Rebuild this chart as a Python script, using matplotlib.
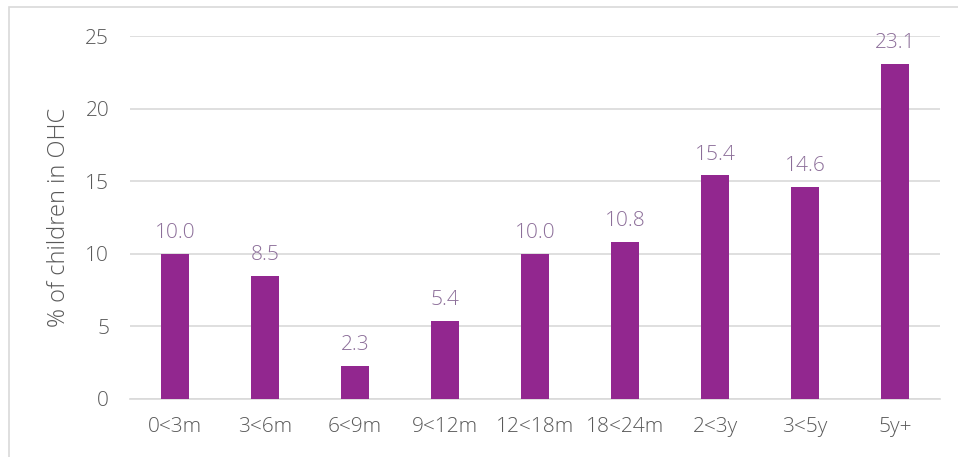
import matplotlib
matplotlib.use("Agg")
import matplotlib.pyplot as plt
from matplotlib.patches import Rectangle

categories = ["0<3m", "3<6m", "6<9m", "9<12m", "12<18m", "18<24m", "2<3y", "3<5y", "5y+"]
values = [10.0, 8.5, 2.3, 5.4, 10.0, 10.8, 15.4, 14.6, 23.1]
yticks = [0, 5, 10, 15, 20, 25]

BAR = "#92278F"
LABEL = "#8C6E99"
TEXT = "#595959"
GRID = "#D9D9D9"

plt.rcParams["font.family"] = ["Open Sans", "DejaVu Sans"]

fig = plt.figure(figsize=(9.58, 4.57), dpi=100)
ax = fig.add_axes([130 / 958, 1 - 399 / 457, 810 / 958, 363 / 457])

x = range(len(categories))
bars = ax.bar(x, values, width=0.31, color=BAR, zorder=3)
for b, v in zip(bars, values):
    ax.text(b.get_x() + b.get_width() / 2, v + 0.75, f"{v:.1f}",
            ha="center", va="bottom", fontsize=15, color=LABEL, fontweight="light")

ax.set_xlim(-0.5, len(categories) - 0.5)
ax.set_ylim(0, 25)
ax.set_yticks(yticks)
ax.set_xticks(list(x))
ax.set_xticklabels(categories)
ax.tick_params(length=0, labelsize=15, colors=TEXT, pad=13)
ax.tick_params(axis="y", pad=15)
for lab in ax.get_xticklabels() + ax.get_yticklabels():
    lab.set_fontweight("light")
ax.grid(True, axis="y", color=GRID, linewidth=1.2, zorder=0)
for s in ["top", "right", "left"]:
    ax.spines[s].set_visible(False)
ax.spines["bottom"].set_color(GRID)
ax.spines["bottom"].set_linewidth(1.2)
ax.set_ylabel("% of children in OHC", fontsize=17, color=TEXT, fontweight="light", labelpad=10)

# chart frame border
fig.patches.append(Rectangle((9 / 958, -0.1), 1.2, 1 - 7 / 457 + 0.1,
                             transform=fig.transFigure, fill=False,
                             edgecolor=GRID, linewidth=1.2))

fig.savefig("out.png", dpi=100)
